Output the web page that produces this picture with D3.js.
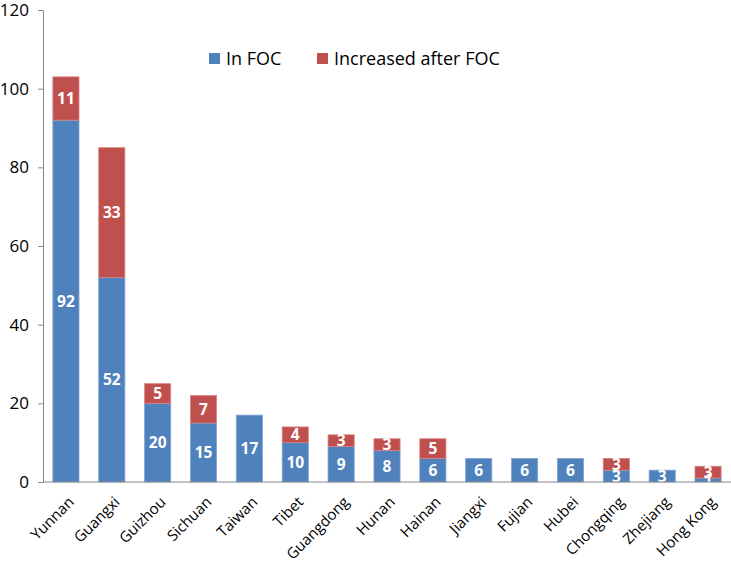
<!DOCTYPE html>
<html><head><meta charset="utf-8">
<script src="https://cdn.jsdelivr.net/npm/d3@7"></script>
<style>body{margin:0;background:#fff;} text{font-family:"Open Sans","Liberation Sans",sans-serif;}</style>
</head><body>
<svg id="c" width="731" height="562"></svg>
<script>
const categories = ["Yunnan","Guangxi","Guizhou","Sichuan","Taiwan","Tibet","Guangdong","Hunan","Hainan","Jiangxi","Fujian","Hubei","Chongqing","Zhejiang","Hong Kong"];
const inFOC = [92,52,20,15,17,10,9,8,6,6,6,6,3,3,1];
const increased = [11,33,5,7,0,4,3,3,5,0,0,0,3,0,3];
const seriesNames = ["In FOC","Increased after FOC"];
const colors = ["#4f81bd","#c0504d"];
const yTicks = [0,20,40,60,80,100,120];

const svg = d3.select("#c");
const x = d3.scaleBand().domain(categories).range([43,731]).paddingInner(0.43).paddingOuter(0.215);
const y = d3.scaleLinear().domain([0,120]).range([482,10]);

const data = categories.map((c,i)=>({cat:c, a:inFOC[i], b:increased[i]}));
const stack = d3.stack().keys(["a","b"])(data);

const g = svg.append("g");
stack.forEach((layer,li)=>{
  g.selectAll(null).data(layer).join("rect")
    .attr("x", d=>x(d.data.cat))
    .attr("width", x.bandwidth())
    .attr("y", d=>y(d[1]))
    .attr("height", d=>y(d[0])-y(d[1]))
    .attr("fill", colors[li])
    .attr("stroke", li===0?"#7fa3d2":"#d98583")
    .attr("stroke-width",0.8);
});
stack.forEach((layer,li)=>{
  g.selectAll(null).data(layer.filter(d=>d[1]-d[0]>0)).join("text")
    .attr("x", d=>x(d.data.cat)+x.bandwidth()/2)
    .attr("y", d=>(y(d[0])+y(d[1]))/2)
    .attr("dy","0.36em")
    .attr("text-anchor","middle")
    .attr("fill","#fff")
    .attr("font-weight","bold")
    .attr("font-size","15.5px")
    .text(d=>d[1]-d[0]);
});

// y axis
const ya = svg.append("g").attr("transform","translate(43,0)")
  .call(d3.axisLeft(y).tickValues(yTicks).tickSize(5).tickPadding(9));
ya.select(".domain").attr("stroke","#868686");
ya.selectAll(".tick line").attr("stroke","#868686");
ya.selectAll(".tick text").attr("font-size","17px").attr("fill","#000").attr("font-family","'Open Sans','Liberation Sans',sans-serif");

// x axis
const xa = svg.append("g").attr("transform","translate(0,482)")
  .call(d3.axisBottom(x).tickSize(0).tickPadding(0));
xa.select(".domain").attr("stroke","#868686").attr("d","M43,0H731");
xa.selectAll(".tick text")
  .attr("font-size","15px").attr("fill","#000")
  .attr("font-family","'Open Sans','Liberation Sans',sans-serif")
  .attr("text-anchor","end")
  .attr("x",0).attr("y",0).attr("dy",0)
  .attr("transform","translate(9,21) rotate(-45)");

// legend
const lg = svg.append("g");
const lx = [209,317];
seriesNames.forEach((n,i)=>{
  lg.append("rect").attr("x",lx[i]).attr("y",53).attr("width",11).attr("height",11).attr("fill",colors[i]);
  lg.append("text").attr("x",lx[i]+17).attr("y",58.5).attr("dy","0.36em").attr("font-size","18px").attr("fill","#000").text(n);
});
</script>
</body></html>
